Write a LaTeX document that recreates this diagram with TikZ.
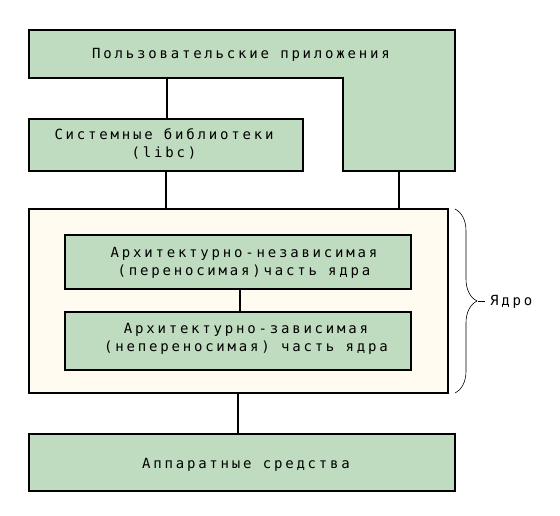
\documentclass[tikz,border=0pt]{standalone}
\usepackage{fontspec}
\setmainfont{DejaVu Sans}
\newfontfamily\diafont[LetterSpace=20]{DejaVu Sans Mono}
\usetikzlibrary{decorations.pathreplacing}
\definecolor{boxgreen}{HTML}{C0DCC0}
\definecolor{kernelfill}{HTML}{FFFBF0}
\tikzset{
  x=1pt, y=-1pt,
  line/.style={draw=black, line width=1.8pt},
  greenbox/.style={line, fill=boxgreen},
  lbl/.style={font=\diafont\fontsize{14}{18.5}\selectfont, align=center, inner sep=0pt},
}
\begin{document}
\begin{tikzpicture}
\useasboundingbox (0,0) rectangle (560,516);
% user applications (L-shape)
\draw[greenbox] (29,30) -- (455,30) -- (455,171) -- (343,171) -- (343,78) -- (29,78) -- cycle;
\node[lbl] (apps) at (241,55) {Пользовательские приложения};
\coordinate (appsL) at (167,78);
\coordinate (appsR) at (399,171);
% system libraries
\node[greenbox, minimum width=274pt, minimum height=52pt, inner sep=0pt] (libc) at (166,145) {};
\node[lbl] (libctext) at (164,144) {Системные библиотеки\\(libc)};
% kernel
\node[line, fill=kernelfill, minimum width=419pt, minimum height=184pt, inner sep=0pt] (kernel) at (238.5,301) {};
\node[greenbox, minimum width=346pt, minimum height=54pt, inner sep=0pt] (indep) at (238,262) {};
\node[lbl] (indeptext) at (244,263) {Архитектурно-независимая\\(переносимая)часть ядра};
\node[greenbox, minimum width=346pt, minimum height=58pt, inner sep=0pt] (dep) at (238,341) {};
\node[lbl] (deptext) at (246,339) {Архитектурно-зависимая\\(непереносимая) часть ядра};
% hardware
\node[greenbox, minimum width=426pt, minimum height=57pt, inner sep=0pt] (hw) at (242,462.5) {};
\node[lbl] (hwtext) at (246,465) {Аппаратные средства};
% connectors
\draw[line] (appsL) -- (appsL |- libc.north);
\coordinate (libcS) at (libc.south);
\draw[line] (libcS) -- (libcS |- kernel.north);
\draw[line] (appsR) -- (appsR |- kernel.north);
\coordinate (c1) at (240,289);
\draw[line] (c1) -- (c1 |- dep.north);
\coordinate (kS) at (238,393);
\draw[line] (kS) -- (kS |- hw.north);
% brace
\draw[decorate, decoration={brace, amplitude=22pt, aspect=0.5}, line width=0.6pt]
  (455,209) coordinate (bt) -- (455,393) coordinate (bb);
\coordinate (btip) at (478,301);
\draw[line width=0.8pt] (btip) -- (485,301);
\node[lbl, anchor=west] (yadro) at (490,302) {Ядро};
\end{tikzpicture}
\end{document}
